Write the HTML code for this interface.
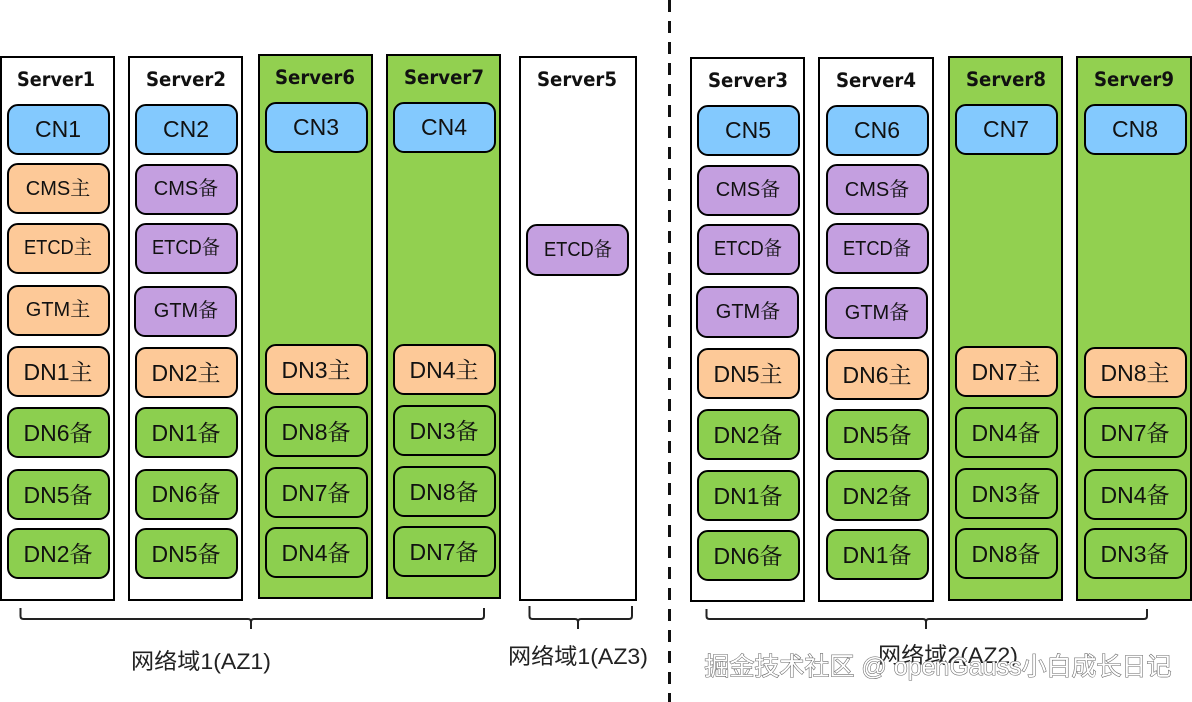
<!DOCTYPE html>
<html><head><meta charset="utf-8"><style>
html,body{margin:0;padding:0;background:#fff;width:1192px;height:702px;overflow:hidden}
svg{display:block}
text{font-family:"Liberation Sans","Noto Serif CJK SC",serif;text-anchor:middle;fill:#111}
.w,.g{stroke:#000;stroke-width:2}.w{fill:#fff}.g{fill:#92d050}
.n{stroke:#000;stroke-width:2}
.b{fill:#83c9fe}.o{fill:#fdc998}.p{fill:#c49fe0}.d{fill:#8ccf4f}
.s{font-weight:bold;font-family:"DejaVu Sans",sans-serif;font-size:19.5px}
.c{font-size:23px}.m{font-size:20px}.t{font-size:22px;font-family:"Liberation Sans","Noto Sans CJK SC",sans-serif;fill:#222}
.br{fill:none;stroke:#222;stroke-width:2}
.wm{font-size:25px;font-family:"Liberation Sans","Noto Sans CJK SC",sans-serif;fill:#fff;stroke:#666;stroke-width:1.1;paint-order:stroke}
</style></head><body>
<svg width="1192" height="702" viewBox="0 0 1192 702" xmlns="http://www.w3.org/2000/svg">
<line x1="669.5" y1="0" x2="669.5" y2="702" stroke="#111" stroke-width="3" stroke-dasharray="12,9"/>
<rect class="w" x="1" y="57" width="113" height="543"/>
<rect class="w" x="129" y="57" width="113" height="543"/>
<rect class="g" x="259" y="55" width="113" height="543"/>
<rect class="g" x="387" y="55" width="113" height="543"/>
<rect class="w" x="520" y="57" width="116" height="543"/>
<rect class="w" x="691" y="58" width="113" height="543"/>
<rect class="w" x="819" y="58" width="114" height="543"/>
<rect class="g" x="949" y="57" width="113" height="543"/>
<rect class="g" x="1077" y="57" width="114" height="543"/>
<text class="s" x="56" y="86" textLength="78" lengthAdjust="spacingAndGlyphs">Server1</text>
<text class="s" x="186" y="86" textLength="80" lengthAdjust="spacingAndGlyphs">Server2</text>
<text class="s" x="315" y="84" textLength="80" lengthAdjust="spacingAndGlyphs">Server6</text>
<text class="s" x="444" y="84" textLength="80" lengthAdjust="spacingAndGlyphs">Server7</text>
<text class="s" x="577" y="86" textLength="80" lengthAdjust="spacingAndGlyphs">Server5</text>
<text class="s" x="748" y="87" textLength="80" lengthAdjust="spacingAndGlyphs">Server3</text>
<text class="s" x="876" y="87" textLength="80" lengthAdjust="spacingAndGlyphs">Server4</text>
<text class="s" x="1006" y="86" textLength="80" lengthAdjust="spacingAndGlyphs">Server8</text>
<text class="s" x="1134" y="86" textLength="80" lengthAdjust="spacingAndGlyphs">Server9</text>

<rect class="n b" x="8" y="105" width="101" height="49" rx="10"/><text class="c" x="58" y="137">CN1</text>
<rect class="n o" x="8" y="164" width="101" height="49" rx="10"/><text class="m" x="58" y="195">CMS主</text>
<rect class="n o" x="8" y="224" width="101" height="49" rx="10"/><text class="m" x="58" y="254" textLength="68" lengthAdjust="spacingAndGlyphs">ETCD主</text>
<rect class="n o" x="8" y="286" width="101" height="49" rx="10"/><text class="m" x="58" y="316">GTM主</text>
<rect class="n o" x="8" y="347" width="101" height="49" rx="10"/><text class="c" x="58" y="380">DN1主</text>
<rect class="n d" x="8" y="408" width="101" height="49" rx="10"/><text class="c" x="58" y="441">DN6备</text>
<rect class="n d" x="8" y="470" width="101" height="49" rx="10"/><text class="c" x="58" y="503">DN5备</text>
<rect class="n d" x="8" y="529" width="101" height="49" rx="10"/><text class="c" x="58" y="562">DN2备</text>

<rect class="n b" x="136" y="105" width="101" height="49" rx="10"/><text class="c" x="186" y="137">CN2</text>
<rect class="n p" x="136" y="165" width="101" height="49" rx="10"/><text class="m" x="186" y="195">CMS备</text>
<rect class="n p" x="136" y="224" width="101" height="49" rx="10"/><text class="m" x="186" y="254" textLength="68" lengthAdjust="spacingAndGlyphs">ETCD备</text>
<rect class="n p" x="135" y="287" width="101" height="49" rx="10"/><text class="m" x="186" y="317">GTM备</text>
<rect class="n o" x="136" y="348" width="101" height="49" rx="10"/><text class="c" x="186" y="381">DN2主</text>
<rect class="n d" x="136" y="408" width="101" height="49" rx="10"/><text class="c" x="186" y="441">DN1备</text>
<rect class="n d" x="136" y="470" width="101" height="49" rx="10"/><text class="c" x="186" y="502">DN6备</text>
<rect class="n d" x="136" y="529" width="101" height="49" rx="10"/><text class="c" x="186" y="562">DN5备</text>

<rect class="n b" x="266" y="103" width="101" height="49" rx="10"/><text class="c" x="316" y="135">CN3</text>
<rect class="n o" x="266" y="345" width="101" height="49" rx="10"/><text class="c" x="316" y="378">DN3主</text>
<rect class="n d" x="266" y="407" width="101" height="49" rx="10"/><text class="c" x="316" y="440">DN8备</text>
<rect class="n d" x="266" y="468" width="101" height="49" rx="10"/><text class="c" x="316" y="501">DN7备</text>
<rect class="n d" x="266" y="528" width="101" height="49" rx="10"/><text class="c" x="316" y="561">DN4备</text>

<rect class="n b" x="394" y="103" width="101" height="49" rx="10"/><text class="c" x="444" y="135">CN4</text>
<rect class="n o" x="394" y="345" width="101" height="49" rx="10"/><text class="c" x="444" y="378">DN4主</text>
<rect class="n d" x="394" y="406" width="101" height="49" rx="10"/><text class="c" x="444" y="439">DN3备</text>
<rect class="n d" x="394" y="467" width="101" height="49" rx="10"/><text class="c" x="444" y="500">DN8备</text>
<rect class="n d" x="394" y="527" width="101" height="49" rx="10"/><text class="c" x="444" y="560">DN7备</text>

<rect class="n p" x="527" y="225" width="101" height="50" rx="10"/><text class="m" x="578" y="256" textLength="68" lengthAdjust="spacingAndGlyphs">ETCD备</text>

<rect class="n b" x="698" y="106" width="101" height="49" rx="10"/><text class="c" x="748" y="138">CN5</text>
<rect class="n p" x="698" y="166" width="101" height="49" rx="10"/><text class="m" x="748" y="196">CMS备</text>
<rect class="n p" x="698" y="225" width="101" height="49" rx="10"/><text class="m" x="748" y="255" textLength="68" lengthAdjust="spacingAndGlyphs">ETCD备</text>
<rect class="n p" x="697" y="287" width="101" height="50" rx="10"/><text class="m" x="748" y="318">GTM备</text>
<rect class="n o" x="698" y="349" width="101" height="49" rx="10"/><text class="c" x="748" y="382">DN5主</text>
<rect class="n d" x="698" y="410" width="101" height="49" rx="10"/><text class="c" x="748" y="443">DN2备</text>
<rect class="n d" x="698" y="471" width="101" height="49" rx="10"/><text class="c" x="748" y="504">DN1备</text>
<rect class="n d" x="698" y="531" width="101" height="49" rx="10"/><text class="c" x="748" y="564">DN6备</text>

<rect class="n b" x="827" y="106" width="101" height="49" rx="10"/><text class="c" x="877" y="138">CN6</text>
<rect class="n p" x="827" y="165" width="101" height="49" rx="10"/><text class="m" x="877" y="196">CMS备</text>
<rect class="n p" x="827" y="224" width="101" height="49" rx="10"/><text class="m" x="877" y="255" textLength="68" lengthAdjust="spacingAndGlyphs">ETCD备</text>
<rect class="n p" x="826" y="288" width="101" height="50" rx="10"/><text class="m" x="877" y="319">GTM备</text>
<rect class="n o" x="827" y="350" width="101" height="49" rx="10"/><text class="c" x="877" y="383">DN6主</text>
<rect class="n d" x="827" y="410" width="101" height="49" rx="10"/><text class="c" x="877" y="443">DN5备</text>
<rect class="n d" x="827" y="471" width="101" height="49" rx="10"/><text class="c" x="877" y="504">DN2备</text>
<rect class="n d" x="827" y="530" width="101" height="49" rx="10"/><text class="c" x="877" y="563">DN1备</text>

<rect class="n b" x="956" y="105" width="101" height="49" rx="10"/><text class="c" x="1006" y="137">CN7</text>
<rect class="n o" x="956" y="347" width="101" height="49" rx="10"/><text class="c" x="1006" y="380">DN7主</text>
<rect class="n d" x="956" y="408" width="101" height="49" rx="10"/><text class="c" x="1006" y="441">DN4备</text>
<rect class="n d" x="956" y="469" width="101" height="49" rx="10"/><text class="c" x="1006" y="502">DN3备</text>
<rect class="n d" x="956" y="529" width="101" height="49" rx="10"/><text class="c" x="1006" y="562">DN8备</text>

<rect class="n b" x="1085" y="105" width="101" height="49" rx="10"/><text class="c" x="1135" y="137">CN8</text>
<rect class="n o" x="1085" y="348" width="101" height="49" rx="10"/><text class="c" x="1135" y="381">DN8主</text>
<rect class="n d" x="1085" y="408" width="101" height="49" rx="10"/><text class="c" x="1135" y="441">DN7备</text>
<rect class="n d" x="1085" y="470" width="101" height="49" rx="10"/><text class="c" x="1135" y="503">DN4备</text>
<rect class="n d" x="1085" y="529" width="101" height="49" rx="10"/><text class="c" x="1135" y="562">DN3备</text>

<path class="br" d="M20.5 608v8q0 3 3 3H248q3 0 3 3v7M251 622q0-3 3-3H481q3 0 3-3v-8"/>
<path class="br" d="M529.5 606v10q0 3 3 3H575q3 0 3 3v7M578 622q0-3 3-3H629q3 0 3-3v-10"/>
<path class="br" d="M706.5 609v7q0 3 3 3H923q3 0 3 3v7M926 622q0-3 3-3H1144q3 0 3-3v-7"/>

<text class="t" x="201" y="669" textLength="140" lengthAdjust="spacingAndGlyphs">网络域1(AZ1)</text>
<text class="t" x="578" y="664" textLength="140" lengthAdjust="spacingAndGlyphs">网络域1(AZ3)</text>
<text class="t" x="948" y="663" textLength="140" lengthAdjust="spacingAndGlyphs">网络域2(AZ2)</text>
<text class="wm" x="938" y="675">掘金技术社区 @ openGauss小白成长日记</text>
</svg>
</body></html>
